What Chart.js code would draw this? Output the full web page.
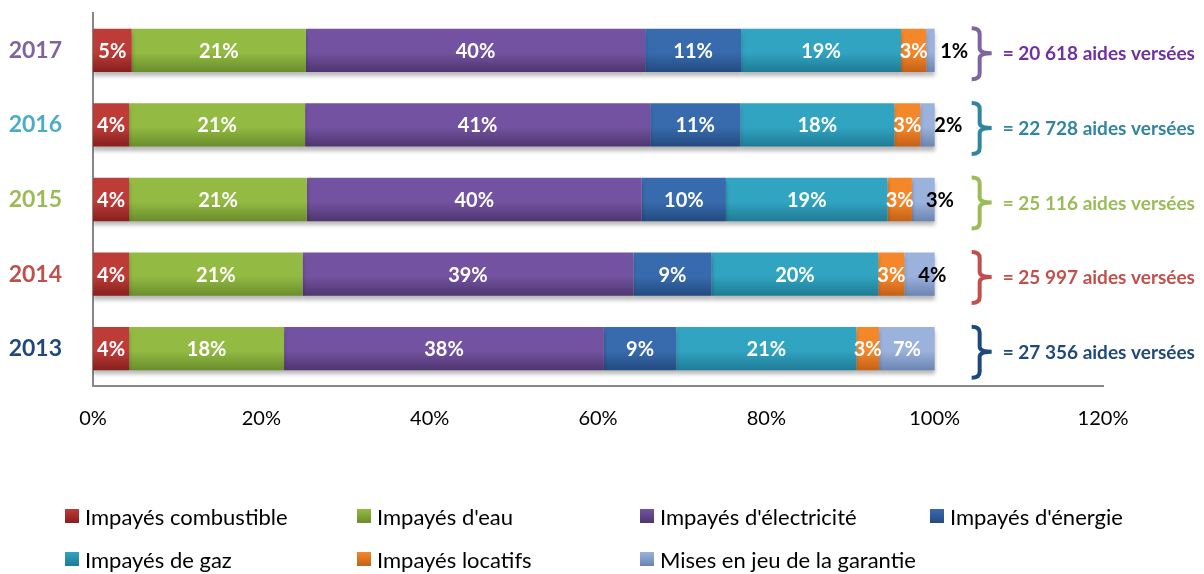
<!DOCTYPE html>
<html lang="fr">
<head>
<meta charset="utf-8">
<title>Aides versées par motif</title>
<script src="https://cdn.jsdelivr.net/npm/chart.js@4.4.1/dist/chart.umd.min.js"></script>
<style>
  html, body { margin: 0; padding: 0; background: #fff; }
  #wrap { position: relative; width: 1204px; height: 574px; }
  #legend {
    position: absolute; left: 65px; top: 505px;
    display: grid; grid-template-columns: 292px 283px 290px 260px;
    row-gap: 21px;
    font-family: Lato, sans-serif; font-size: 22px; color: #000;
  }
  #legend .item { display: flex; align-items: center; height: 22px; white-space: nowrap; }
  #legend .box { width: 14px; height: 14px; margin-right: 6px; }
</style>
</head>
<body>
<div id="wrap">
  <canvas id="chart" width="1204" height="574"></canvas>
  <div id="legend"></div>
</div>
<script>
// Data (percent of aides per year)
const years = ["2017", "2016", "2015", "2014", "2013"];
const combustible = [4.6, 4.3, 4.3, 4.3, 4.3];
const eau = [20.7, 20.9, 21.1, 20.6, 18.4];
const electricite = [40.3, 41.0, 39.8, 39.3, 38.0];
const energie = [11.4, 10.7, 10.0, 9.3, 8.6];
const gaz = [19.0, 18.3, 19.2, 19.8, 21.4];
const locatifs = [3.0, 3.1, 2.9, 3.1, 2.7];
const garantie = [1.0, 1.7, 2.7, 3.6, 6.6];
const aidesVersees = ["20 618", "22 728", "25 116", "25 997", "27 356"];
const xTicks = [0, 20, 40, 60, 80, 100, 120];

const seriesLabels = [
  "Impayés combustible", "Impayés d'eau", "Impayés d'électricité", "Impayés d'énergie",
  "Impayés de gaz", "Impayés locatifs", "Mises en jeu de la garantie"
];
const seriesData = [combustible, eau, electricite, energie, gaz, locatifs, garantie];

// Styles
const seriesColors = [
  ["#bd3c38", "#86201e"], ["#93ba43", "#6a8d2c"], ["#7353a1", "#4e356f"],
  ["#386bad", "#234a80"], ["#31a4c2", "#1f7b95"], ["#f4872a", "#c46117"],
  ["#9ab2dc", "#6c84b1"]
];
const yearColors = ["#8064a2", "#4bacc6", "#9bbb59", "#c0504d", "#1f497d"];
const noteColors = ["#7030a0", "#31859c", "#9bbb59", "#c0504d", "#1f497d"];
const braceColors = ["#8064a2", "#31859c", "#9bbb59", "#c0504d", "#1f497d"];
const FONT = "Lato, sans-serif";

function barGradient(ctx, i) {
  const chart = ctx.chart;
  const y = chart.scales && chart.scales.y;
  const c = seriesColors[i];
  if (!y || ctx.dataIndex === undefined || !chart.chartArea) return c[0];
  const yc = y.getPixelForValue(ctx.dataIndex);
  const half = (chart.chartArea.height / years.length) * 0.58 / 2;
  const g = chart.ctx.createLinearGradient(0, yc - half, 0, yc + half);
  g.addColorStop(0, c[0]);
  g.addColorStop(0.55, c[0]);
  g.addColorStop(1, c[1]);
  return g;
}

const shadowPlugin = {
  id: "barShadow",
  beforeDatasetsDraw(chart) {
    const ctx = chart.ctx;
    ctx.save();
    ctx.shadowColor = "rgba(0,0,0,0.28)";
    ctx.shadowBlur = 4;
    ctx.shadowOffsetY = 4;
  },
  afterDatasetsDraw(chart) {
    chart.ctx.restore();
  }
};

const labelPlugin = {
  id: "segmentLabels",
  afterDatasetsDraw(chart) {
    const ctx = chart.ctx;
    ctx.save();
    ctx.font = "bold 20px " + FONT;
    ctx.textAlign = "center";
    ctx.textBaseline = "middle";
    chart.data.datasets.forEach((ds, di) => {
      chart.getDatasetMeta(di).data.forEach((bar, i) => {
        const v = ds.data[i];
        const txt = Math.round(v) + "%";
        const left = Math.min(bar.x, bar.base);
        const right = Math.max(bar.x, bar.base);
        if (di === chart.data.datasets.length - 1 && v < 5) {
          ctx.fillStyle = "#000";
          ctx.fillText(txt, left + 28, bar.y + 1);
        } else {
          ctx.fillStyle = "#fff";
          ctx.fillText(txt, (left + right) / 2, bar.y + 1);
        }
      });
    });
    ctx.restore();
  }
};

const bracePlugin = {
  id: "braces",
  afterDraw(chart) {
    const ctx = chart.ctx;
    const x100 = chart.scales.x.getPixelForValue(100);
    const meta = chart.getDatasetMeta(0);
    ctx.save();
    meta.data.forEach((bar, i) => {
      const mid = bar.y + 3;
      const top = mid - 25, bot = mid + 26;
      const xL = x100 + 37, xS = x100 + 45, xP = x100 + 57;
      ctx.strokeStyle = braceColors[i];
      ctx.lineWidth = 4;
      ctx.lineJoin = "round";
      ctx.beginPath();
      ctx.moveTo(xL, top);
      ctx.quadraticCurveTo(xS, top, xS, top + 6);
      ctx.lineTo(xS, mid - 5);
      ctx.quadraticCurveTo(xS, mid, xP, mid);
      ctx.moveTo(xP, mid);
      ctx.quadraticCurveTo(xS, mid, xS, mid + 5);
      ctx.lineTo(xS, bot - 6);
      ctx.quadraticCurveTo(xS, bot, xL, bot);
      ctx.stroke();
      ctx.fillStyle = noteColors[i];
      ctx.font = "bold 19px " + FONT;
      ctx.textAlign = "left";
      ctx.textBaseline = "middle";
      ctx.fillText("= " + aidesVersees[i] + " aides versées", x100 + 68, mid + 1);
    });
    ctx.restore();
  }
};

const chart = new Chart(document.getElementById("chart"), {
  type: "bar",
  data: {
    labels: years,
    datasets: seriesLabels.map((label, i) => ({
      label: label,
      data: seriesData[i],
      backgroundColor: (ctx) => barGradient(ctx, i),
      borderWidth: 0,
      categoryPercentage: 1,
      barPercentage: 0.58
    }))
  },
  options: {
    indexAxis: "y",
    responsive: false,
    animation: false,
    devicePixelRatio: 1,
    layout: { padding: { top: 13, right: 101, bottom: 128, left: 0 } },
    plugins: {
      legend: { display: false },
      tooltip: { enabled: false }
    },
    scales: {
      x: {
        stacked: true,
        min: 0,
        max: 120,
        afterBuildTicks: (scale) => { scale.ticks = xTicks.map(v => ({ value: v })); },
        afterFit: (scale) => {
          scale.height = 60;
          scale.paddingLeft = 0;
          scale.paddingRight = 0;
        },
        grid: { display: false, drawTicks: false },
        border: { display: true, color: "#868686", width: 2 },
        ticks: {
          padding: 21,
          color: "#000",
          font: { family: FONT, size: 20 },
          callback: (v) => v + "%"
        }
      },
      y: {
        stacked: true,
        afterFit: (scale) => {
          scale.width = 93;
          scale.paddingTop = 0;
          scale.paddingBottom = 0;
        },
        grid: { display: false, drawTicks: false },
        border: { display: true, color: "#868686", width: 2 },
        ticks: {
          padding: 31,
          color: (c) => yearColors[c.index],
          font: { family: FONT, size: 23, weight: "bold" }
        }
      }
    }
  },
  plugins: [shadowPlugin, labelPlugin, bracePlugin]
});

// HTML legend built from the chart's datasets
const legendEl = document.getElementById("legend");
chart.data.datasets.forEach((ds, i) => {
  const item = document.createElement("div");
  item.className = "item";
  const box = document.createElement("span");
  box.className = "box";
  box.style.background = "linear-gradient(" + seriesColors[i][0] + ", " + seriesColors[i][1] + ")";
  const text = document.createElement("span");
  text.textContent = ds.label;
  item.appendChild(box);
  item.appendChild(text);
  legendEl.appendChild(item);
});
</script>
</body>
</html>
